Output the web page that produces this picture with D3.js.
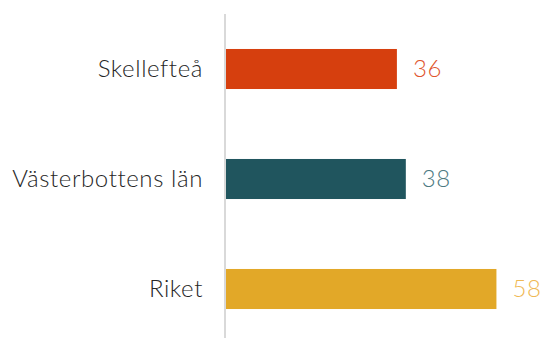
<!DOCTYPE html>
<html>
<head>
<meta charset="utf-8">
<script src="https://d3js.org/d3.v7.min.js"></script>
<style>
  body { margin: 0; background: #fff; }
  .cat { font-family: Lato, sans-serif; font-weight: 300; font-size: 24px; letter-spacing: 0.6px; fill: #262626; }
  .val { font-family: Lato, sans-serif; font-weight: 300; font-size: 24px; letter-spacing: 0.6px; }
</style>
</head>
<body>
<svg id="chart"></svg>
<script>
// data
var categories = ["Skellefteå", "Västerbottens län", "Riket"];
var values = [36.4, 38.3, 57.6];
var barColors = ["#d63f0e", "#20555e", "#e2a828"];
var labelColors = ["#e0552c", "#4d7a82", "#efb955"];

var width = 542, height = 338;
var svg = d3.select("#chart")
    .attr("width", width)
    .attr("height", height);

var x = d3.scaleLinear()
    .domain([0, 60])
    .range([226, 226 + 60 * 4.695]);

var y = d3.scaleBand()
    .domain(categories)
    .range([14, 344])
    .paddingInner(0.636)
    .paddingOuter(0.318);

var data = categories.map(function(c, i) {
  return { cat: c, value: values[i], color: barColors[i], lc: labelColors[i] };
});

svg.selectAll("rect.bar")
  .data(data)
  .enter().append("rect")
    .attr("class", "bar")
    .attr("x", x(0))
    .attr("y", d => y(d.cat))
    .attr("width", d => x(d.value) - x(0))
    .attr("height", y.bandwidth())
    .style("fill", d => d.color);

// axis line
svg.append("line")
    .attr("x1", x(0) - 1).attr("x2", x(0) - 1)
    .attr("y1", 14).attr("y2", height)
    .style("stroke", "#d9d9d9")
    .style("stroke-width", 2);

// category labels
svg.selectAll("text.cat")
  .data(data)
  .enter().append("text")
    .attr("class", "cat")
    .attr("x", 203)
    .attr("y", d => y(d.cat) + y.bandwidth() / 2)
    .attr("dy", "0.35em")
    .attr("text-anchor", "end")
    .text(d => d.cat);

// value labels
svg.selectAll("text.val")
  .data(data)
  .enter().append("text")
    .attr("class", "val")
    .attr("x", d => x(d.value) + 16)
    .attr("y", d => y(d.cat) + y.bandwidth() / 2)
    .attr("dy", "0.35em")
    .style("fill", d => d.lc)
    .text(d => Math.round(d.value));
</script>
</body>
</html>
